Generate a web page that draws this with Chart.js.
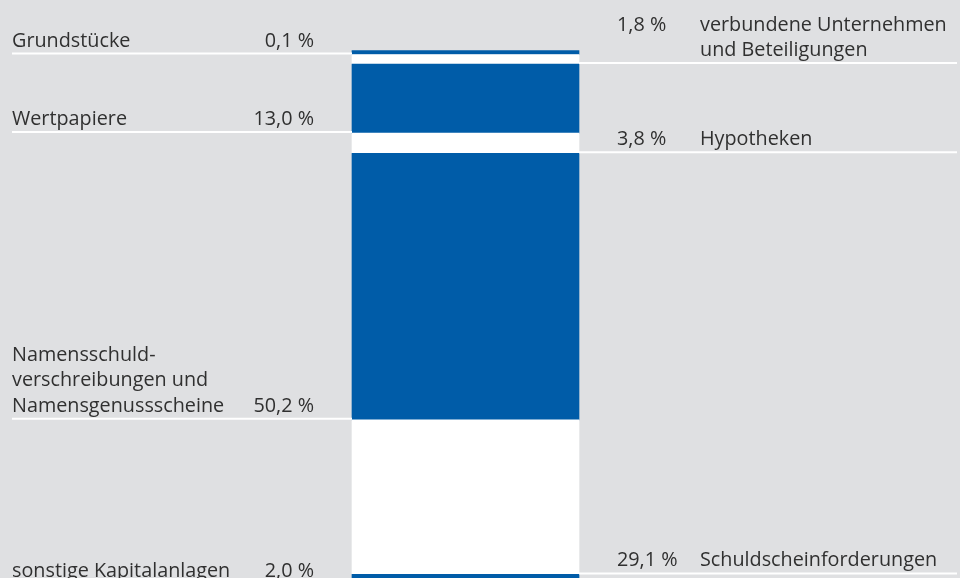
<!DOCTYPE html>
<html>
<head>
<meta charset="utf-8">
<script src="https://cdn.jsdelivr.net/npm/chart.js@4"></script>
<style>
    body {
        margin: 0;
        background: #dfe0e2;
        overflow: hidden;
    }
    .chart-box {
        position: relative;
        width: 960px;
        height: 600px;
    }
</style>
</head>
<body>
<div class="chart-box">
    <canvas id="assetChart"></canvas>
</div>
<script>
// Segments from top to bottom of the bar
const categories = [
    ['Grundstücke'],
    ['verbundene Unternehmen', 'und Beteiligungen'],
    ['Wertpapiere'],
    ['Hypotheken'],
    ['Namensschuld-', 'verschreibungen und', 'Namensgenussscheine'],
    ['Schuldscheinforderungen'],
    ['sonstige Kapitalanlagen']
];
const shares = [0.1, 1.8, 13.0, 3.8, 50.2, 29.1, 2.0];

const BLUE = '#005ca8';
const WHITE = '#ffffff';
const TEXT = '#303030';
const FONT = '19.8px "Open Sans"';

function formatShare(v) {
    return v.toFixed(1).replace('.', ',') + ' %';
}

// Labels and white guide lines next to each segment
const sideLabels = {
    id: 'sideLabels',
    afterDatasetsDraw(chart) {
        const ctx = chart.ctx;
        const area = chart.chartArea;
        const n = categories.length;
        ctx.save();
        ctx.font = FONT;
        ctx.fillStyle = TEXT;
        for (let i = 0; i < n; i++) {
            // datasets are stacked bottom-up, so index is reversed
            const bar = chart.getDatasetMeta(n - 1 - i).data[0];
            const bottom = bar.base;
            const lines = categories[i];
            const left = i % 2 === 0;

            ctx.strokeStyle = WHITE;
            ctx.lineWidth = 2;
            ctx.beginPath();
            if (left) {
                ctx.moveTo(12, bottom - 1);
                ctx.lineTo(area.left, bottom - 1);
            } else {
                ctx.moveTo(area.right, bottom - 1);
                ctx.lineTo(957, bottom - 1);
            }
            ctx.stroke();

            const lastBase = bottom - 8;
            const lineH = 25.5;
            const firstBase = lastBase - (lines.length - 1) * lineH;
            ctx.textBaseline = 'alphabetic';
            if (left) {
                ctx.textAlign = 'left';
                lines.forEach((t, k) => ctx.fillText(t, 12, firstBase + k * lineH));
                ctx.textAlign = 'right';
                ctx.fillText(formatShare(shares[i]), area.left - 38, lastBase);
            } else {
                ctx.textAlign = 'left';
                lines.forEach((t, k) => ctx.fillText(t, area.right + 121, firstBase + k * lineH));
                ctx.fillText(formatShare(shares[i]), area.right + 38, firstBase);
            }
        }
        ctx.restore();
    }
};

function createChart() {
    const ctx = document.getElementById('assetChart').getContext('2d');
    const datasets = [];
    for (let i = categories.length - 1; i >= 0; i--) {
        datasets.push({
            label: categories[i].join(' '),
            data: [shares[i]],
            backgroundColor: i % 2 === 0 ? BLUE : WHITE,
            borderWidth: 0,
            barPercentage: 1,
            categoryPercentage: 1,
            minBarLength: 4,
            clip: false
        });
    }

    new Chart(ctx, {
        type: 'bar',
        data: {
            labels: ['Kapitalanlagen'],
            datasets: datasets
        },
        options: {
            responsive: true,
            maintainAspectRatio: false,
            animation: false,
            layout: {
                padding: { left: 352, right: 381, top: 54, bottom: 15 }
            },
            scales: {
                x: { stacked: true, display: false },
                y: { stacked: true, display: false, min: 0, max: 100 }
            },
            plugins: {
                legend: { display: false },
                tooltip: { enabled: false }
            }
        },
        plugins: [sideLabels]
    });
}

document.addEventListener('DOMContentLoaded', createChart);
</script>
</body>
</html>
